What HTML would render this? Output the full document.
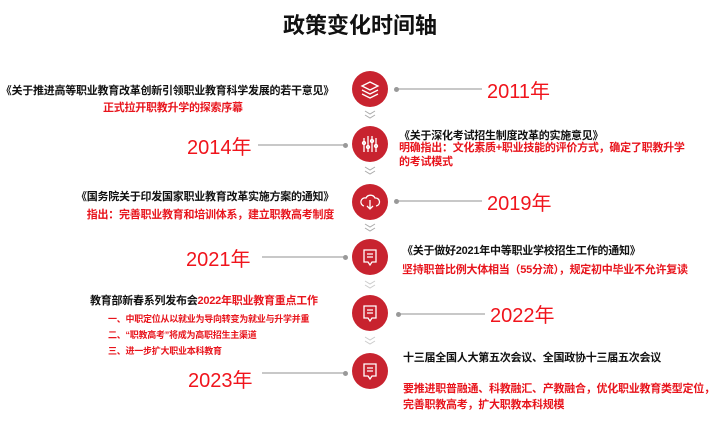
<!DOCTYPE html>
<html><head><meta charset="utf-8"><style>
body{margin:0;width:720px;height:423px;background:#fff;position:relative;overflow:hidden;font-family:"Liberation Sans","Noto Sans CJK SC",sans-serif;}
.a{position:absolute;white-space:nowrap;}
.t{font-size:11px;font-weight:bold;color:#111;letter-spacing:-0.25px;}
.r{font-size:11px;font-weight:bold;color:#e8141c;letter-spacing:-0.25px;}
.y{font-size:20px;color:#f0141c;}
.c{position:absolute;width:36px;height:36px;border-radius:50%;background:#c8232f;left:352px;}
.l{position:absolute;height:2px;background:#c8c8c8;}
.d{position:absolute;width:5px;height:5px;border-radius:50%;background:#999;}
</style></head><body>
<div class="a" style="left:0;width:720px;text-align:center;top:8px;font-size:22px;font-weight:bold;color:#111">政策变化时间轴</div>

<div class="c" style="top:71px"></div>
<div class="c" style="top:126px"></div>
<div class="c" style="top:184px"></div>
<div class="c" style="top:239px"></div>
<div class="c" style="top:295px"></div>
<div class="c" style="top:353px"></div>
<svg class="a" style="left:352px;top:0" width="36" height="423" fill="none" stroke="#fff" stroke-width="1.3">
<path d="M10 86 L18 82 L26 86 L18 90Z M10 90 L18 94 L26 90 M10 94 L18 98 L26 94"/>
<path d="M12 138v14M16 136v16M20 136v16M24 138v14"/><circle cx="12" cy="143" r="1.5"/><circle cx="16" cy="147" r="1.5"/><circle cx="20" cy="141" r="1.5"/><circle cx="24" cy="146" r="1.5"/>
<path d="M12 206 a4 4 0 0 1 2-8 a5 5 0 0 1 9 0 a4 4 0 0 1 1 8 M18 200v9 M15 206l3 3 3-3"/>
<path d="M12 250h12v12h-4l-2 3-2-3h-4z M15 254h6M15 257h6"/>
<path d="M12 306h12v12h-4l-2 3-2-3h-4z M15 310h6M15 313h6"/>
<path d="M12 364h12v12h-4l-2 3-2-3h-4z M15 368h6M15 371h6"/>
</svg>
<svg class="a" style="left:362px;top:0" width="16" height="423" fill="none" stroke="#aaa" stroke-width="1">
<path d="M3 111l5 3 5-3M3 115l5 3 5-3"/><path d="M3 167l5 3 5-3M3 171l5 3 5-3"/><path d="M3 224l5 3 5-3M3 228l5 3 5-3"/>
<path d="M3 281l5 3 5-3M3 285l5 3 5-3" stroke="#ccc"/><path d="M3 337l5 3 5-3M3 341l5 3 5-3" stroke="#ccc"/>
</svg>

<div class="l" style="left:396px;top:88px;width:86px"></div><div class="d" style="left:394px;top:87px"></div>
<div class="l" style="left:258px;top:144px;width:87px"></div><div class="d" style="left:343px;top:143px"></div>
<div class="l" style="left:396px;top:200px;width:86px"></div><div class="d" style="left:394px;top:199px"></div>
<div class="l" style="left:262px;top:256px;width:83px"></div><div class="d" style="left:343px;top:255px"></div>
<div class="l" style="left:398px;top:313px;width:87px"></div><div class="d" style="left:396px;top:312px"></div>
<div class="l" style="left:262px;top:372px;width:83px"></div><div class="d" style="left:343px;top:371px"></div>

<div class="a y" style="left:487px;top:75px">2011年</div>
<div class="a y" style="left:187px;top:131px">2014年</div>
<div class="a y" style="left:487px;top:187px">2019年</div>
<div class="a y" style="left:186px;top:243px">2021年</div>
<div class="a y" style="left:490px;top:299px">2022年</div>
<div class="a y" style="left:188px;top:364px">2023年</div>

<div class="a t" style="right:386px;top:82px">《关于推进高等职业教育改革创新引领职业教育科学发展的若干意见》</div>
<div class="a r" style="left:103px;top:99px">正式拉开职教升学的探索序幕</div>

<div class="a t" style="left:399px;top:127px">《关于深化考试招生制度改革的实施意见》</div>
<div class="a r" style="left:399px;top:141px;line-height:14px">明确指出：文化素质+职业技能的评价方式，确定了职教升学<br>的考试模式</div>

<div class="a t" style="right:386px;top:188px">《国务院关于印发国家职业教育改革实施方案的通知》</div>
<div class="a r" style="right:386px;top:206px">指出：完善职业教育和培训体系，建立职教高考制度</div>

<div class="a t" style="left:402px;top:242px">《关于做好2021年中等职业学校招生工作的通知》</div>
<div class="a r" style="left:402px;top:261px">坚持职普比例大体相当（55分流），规定初中毕业不允许复读</div>

<div class="a t" style="left:90px;top:292px">教育部新春系列发布会<span style="color:#e8141c">2022年职业教育重点工作</span></div>
<div class="a r" style="left:108px;top:311px;font-size:9px;line-height:16px">一、中职定位从以就业为导向转变为就业与升学并重<br>二、“职教高考”将成为高职招生主渠道<br>三、进一步扩大职业本科教育</div>

<div class="a t" style="left:403px;top:349px">十三届全国人大第五次会议、全国政协十三届五次会议</div>
<div class="a r" style="left:403px;top:381px;line-height:16px">要推进职普融通、科教融汇、产教融合，优化职业教育类型定位，<br>完善职教高考，扩大职教本科规模</div>
</body></html>
